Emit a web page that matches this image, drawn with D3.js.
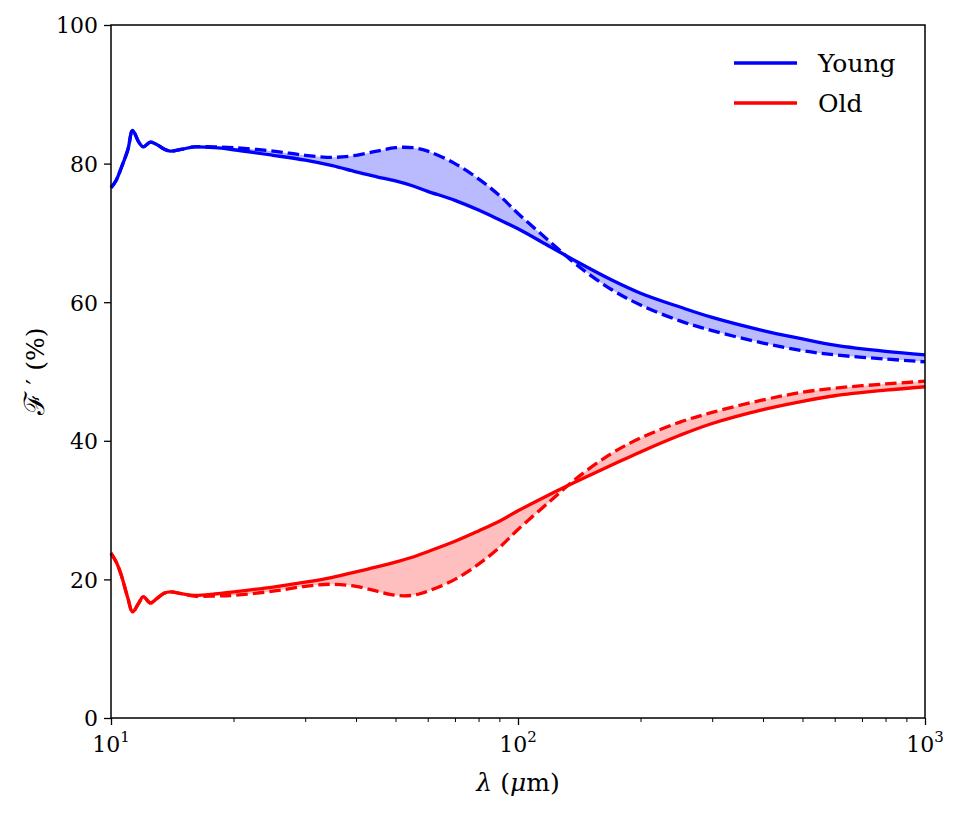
<!DOCTYPE html>
<html>
<head>
<meta charset="utf-8">
<script src="https://cdn.jsdelivr.net/npm/d3@7"></script>
<style>
  body { margin: 0; background: #fff; }
  svg text { font-family: "DejaVu Serif", "Liberation Serif", serif; fill: #000; }
</style>
</head>
<body>
<svg id="chart"></svg>
<script>
// wavelength grid (micron)
const wavelengths = [10, 10.3, 10.6, 11, 11.3, 11.7, 12, 12.5, 13, 13.5, 14, 15, 16, 18, 20, 25, 30, 35, 40, 45, 50, 55, 60, 70, 80, 90, 100, 120, 140, 170, 200, 250, 300, 400, 500, 600, 800, 1000];

const youngSolid = [76.5, 77.6, 79.4, 82.0, 84.8, 83.1, 82.4, 83.1, 82.7, 82.1, 81.8, 82.1, 82.4, 82.3, 82.0, 81.2, 80.5, 79.7, 78.8, 78.1, 77.5, 76.8, 76.0, 74.7, 73.3, 71.9, 70.6, 68.0, 65.8, 63.2, 61.3, 59.3, 57.8, 55.9, 54.7, 53.8, 52.9, 52.4];
const youngDashed = [76.5, 77.6, 79.4, 82.0, 84.8, 83.1, 82.4, 83.1, 82.7, 82.1, 81.8, 82.1, 82.4, 82.4, 82.3, 81.8, 81.2, 80.9, 81.2, 81.8, 82.3, 82.3, 81.8, 80.0, 77.8, 75.4, 72.8, 68.7, 65.3, 61.8, 59.6, 57.3, 55.9, 54.1, 53.0, 52.4, 51.8, 51.4];

const oldSolid = [23.8, 22.5, 20.6, 17.3, 15.3, 16.6, 17.5, 16.6, 17.3, 18.0, 18.2, 17.9, 17.7, 17.9, 18.2, 18.9, 19.6, 20.3, 21.1, 21.8, 22.5, 23.2, 24.0, 25.5, 27.0, 28.4, 29.9, 32.3, 34.2, 36.5, 38.4, 40.8, 42.5, 44.5, 45.7, 46.5, 47.3, 47.8];
const oldDashed = [23.8, 22.5, 20.6, 17.3, 15.3, 16.6, 17.5, 16.6, 17.3, 18.0, 18.2, 17.9, 17.6, 17.6, 17.7, 18.3, 19.0, 19.3, 19.0, 18.3, 17.7, 17.7, 18.3, 20.0, 22.2, 24.6, 27.2, 31.3, 34.7, 38.2, 40.4, 42.7, 44.1, 45.9, 47.0, 47.6, 48.2, 48.6];

const yTicks = [0, 20, 40, 60, 80, 100];
const xMajorTicks = [10, 100, 1000];
const xTickExponents = ["1", "2", "3"];
const legendLabels = ["Young", "Old"];
const seriesColors = ["#0000ff", "#ff0000"];

const width = 961, height = 815;
const margin = { top: 25, right: 36, bottom: 97, left: 111 };

const svg = d3.select("#chart")
    .attr("width", width)
    .attr("height", height);

const x = d3.scaleLog()
    .domain([10, 1000])
    .range([margin.left, width - margin.right]);

const y = d3.scaleLinear()
    .domain([0, 100])
    .range([height - margin.bottom, margin.top]);

const series = [
    { solid: youngSolid, dashed: youngDashed, color: seriesColors[0], fill: "rgba(0,0,255,0.27)" },
    { solid: oldSolid, dashed: oldDashed, color: seriesColors[1], fill: "rgba(255,0,0,0.25)" }
];

const curve = d3.curveCatmullRom.alpha(0.5);
const plot = svg.append("g");

// Filled band between solid and dashed
series.forEach(s => {
    let rows = wavelengths.map((w, i) => ({ w: w, a: s.solid[i], b: s.dashed[i] }));
    let area = d3.area()
        .x(d => x(d.w))
        .y0(d => y(d.a))
        .y1(d => y(d.b))
        .curve(curve);
    plot.append("path")
        .datum(rows)
        .attr("d", area)
        .attr("fill", s.fill)
        .attr("stroke", "none");
});

// Lines
series.forEach(s => {
    let line = d3.line()
        .x(d => x(d[0]))
        .y(d => y(d[1]))
        .curve(curve);
    plot.append("path")
        .datum(wavelengths.map((w, i) => [w, s.solid[i]]))
        .attr("d", line)
        .attr("fill", "none")
        .attr("stroke", s.color)
        .attr("stroke-width", 3.3)
        .attr("stroke-linejoin", "round");
    plot.append("path")
        .datum(wavelengths.map((w, i) => [w, s.dashed[i]]))
        .attr("d", line)
        .attr("fill", "none")
        .attr("stroke", s.color)
        .attr("stroke-width", 3.3)
        .attr("stroke-dasharray", "11.5,5");
});

// Axes
let minorTicks = [];
[10, 100].forEach(base => {
    for (let k = 2; k <= 9; k++) minorTicks.push(base * k);
});

let xAxis = g => g
    .attr("transform", `translate(0,${height - margin.bottom})`)
    .call(d3.axisBottom(x).tickValues(xMajorTicks).tickSize(7).tickFormat(""))
    .call(g => g.select(".domain").remove())
    .call(g => g.selectAll(".tick line").attr("stroke-width", 1.3));

let xMinor = g => g
    .attr("transform", `translate(0,${height - margin.bottom})`)
    .call(d3.axisBottom(x).tickValues(minorTicks).tickSize(4).tickFormat(""))
    .call(g => g.select(".domain").remove())
    .call(g => g.selectAll(".tick line").attr("stroke-width", 1));

let yAxis = g => g
    .attr("transform", `translate(${margin.left},0)`)
    .call(d3.axisLeft(y).tickValues(yTicks).tickSize(7).tickPadding(6))
    .call(g => g.select(".domain").remove())
    .call(g => g.selectAll(".tick line").attr("stroke-width", 1.3))
    .call(g => g.selectAll(".tick text")
        .style("font-size", "22px")
        .style("font-family", "'DejaVu Serif', serif")
        .attr("dy", "0.36em"));

svg.append("g").call(xAxis);
svg.append("g").call(xMinor);
svg.append("g").call(yAxis);

// x tick labels as 10^n
let xLabels = svg.append("g");
xMajorTicks.forEach((v, i) => {
    let t = xLabels.append("text")
        .attr("x", x(v))
        .attr("y", height - margin.bottom + 34)
        .attr("text-anchor", "middle")
        .style("font-size", "22px");
    t.append("tspan").text("10");
    t.append("tspan")
        .attr("dy", -10)
        .style("font-size", "15px")
        .text(xTickExponents[i]);
});

// Frame
svg.append("rect")
    .attr("x", margin.left)
    .attr("y", margin.top)
    .attr("width", width - margin.left - margin.right)
    .attr("height", height - margin.top - margin.bottom)
    .attr("fill", "none")
    .attr("stroke", "#000")
    .attr("stroke-width", 1.5);

// Axis titles
let xTitle = svg.append("text")
    .attr("x", (margin.left + width - margin.right) / 2)
    .attr("y", 791)
    .attr("text-anchor", "middle")
    .style("font-size", "25px");
xTitle.append("tspan").style("font-style", "italic").text("λ");
xTitle.append("tspan").text(" (");
xTitle.append("tspan").style("font-style", "italic").text("μ");
xTitle.append("tspan").text("m)");

let yTitle = svg.append("text")
    .attr("transform", `translate(44,${(margin.top + height - margin.bottom) / 2}) rotate(-90)`)
    .attr("text-anchor", "middle")
    .style("font-size", "25px");
yTitle.append("tspan").style("font-size", "28px").text("ℱ");
yTitle.append("tspan").text(" ′ (%)");

// Legend
let legend = svg.append("g");
legendLabels.forEach((label, i) => {
    let ly = 63 + i * 40;
    legend.append("line")
        .attr("x1", 734).attr("x2", 797)
        .attr("y1", ly).attr("y2", ly)
        .attr("stroke", seriesColors[i])
        .attr("stroke-width", 3.3);
    legend.append("text")
        .attr("x", 818)
        .attr("y", ly + 9)
        .style("font-size", "25px")
        .text(label);
});
</script>
</body>
</html>
